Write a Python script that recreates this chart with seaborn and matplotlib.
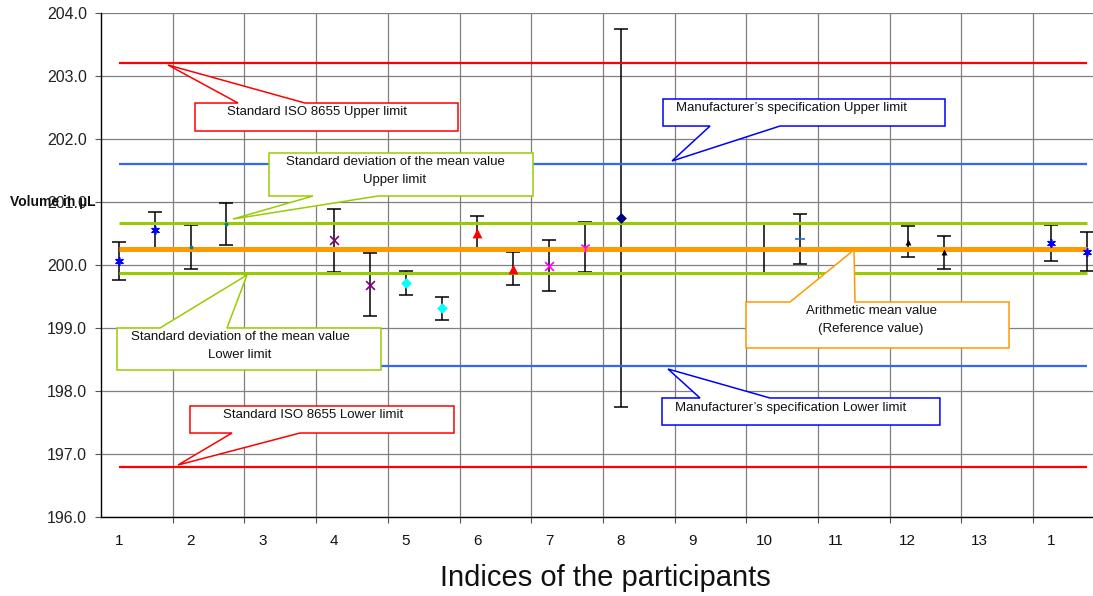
import numpy as np
import pandas as pd
import matplotlib.pyplot as plt
import seaborn as sns
from matplotlib.patches import Polygon

# ---------------------------------------------------------------
# data
# ---------------------------------------------------------------
x_pos = [-0.25, 0.25, 0.75, 1.25, 2.75, 3.25, 3.75, 4.25, 4.75, 5.25,
         5.75, 6.25, 6.75, 8.75, 9.25, 10.75, 11.25, 12.75, 13.25]
volume = [200.06, 200.55, 200.29, 200.65, 200.39, 199.69, 199.72, 199.31, 200.51, 199.94,
          199.99, 200.29, 200.75, 200.26, 200.41, 200.37, 200.20, 200.35, 200.21]
uncert = [0.30, 0.29, 0.35, 0.33, 0.50, 0.50, 0.19, 0.19, 0.27, 0.26,
          0.40, 0.40, 3.00, 0.39, 0.40, 0.25, 0.26, 0.28, 0.31]
series = ['A', 'A', 'B', 'B', 'C', 'C', 'D', 'D', 'E', 'E',
          'F', 'G', 'H', 'I', 'J', 'K', 'K', 'A', 'A']

tick_labels = ['1', '2', '3', '4', '5', '6', '7', '8', '9', '10', '11', '12', '13', '1']

iso_limits = [196.8, 203.2]
manuf_limits = [198.4, 201.6]
sd_limits = [199.87, 200.66]
mean_value = 200.26

df = pd.DataFrame({'x': x_pos, 'volume': volume, 'u': uncert, 'series': series})

# marker style per series: (colour, marker, size)
styles = {
    'A': ('#0000FF', (6, 2, 0), 28),
    'B': ('#008080', 'o', 8),
    'C': ('#800080', 'x', 40),
    'D': ('#00FFFF', 'D', 30),
    'E': ('#FF0000', '^', 50),
    'F': ('#FF00FF', 'x', 40),
    'G': ('#FF00FF', '1', 60),
    'H': ('#000080', 'D', 30),
    'I': None,
    'J': ('#1F6FD0', '_', 60),
    'K': ('#000000', '^', 18),
}

sns.set_theme(style='white')
plt.rcParams['font.family'] = ['Liberation Sans', 'DejaVu Sans']
narrow = ['Liberation Sans Narrow', 'Liberation Sans', 'DejaVu Sans']

fig = plt.figure(figsize=(10.93, 5.96), dpi=100)
ax = fig.add_axes([101 / 1093, 1 - 517 / 596, 1 - 101 / 1093, (517 - 13) / 596])

# error bars (caps hidden for the series without marker)
for s, g in df.groupby('series'):
    cap = 0 if styles[s] is None else 5
    ax.errorbar(g['x'], g['volume'], yerr=g['u'], fmt='none', ecolor='black',
                elinewidth=1.1, capsize=cap, capthick=1.1, zorder=2)

# reference lines
span = (-0.25, 13.25)
ax.hlines(iso_limits, *span, colors='#FF0000', linewidth=1.6, zorder=3)
ax.hlines(manuf_limits, *span, colors='#3366FF', linewidth=1.6, zorder=3)
ax.hlines(sd_limits, *span, colors='#99CC00', linewidth=2.2, zorder=3)
ax.hlines(mean_value, *span, colors='#FF9900', linewidth=3.6, zorder=3)

# markers
for s, g in df.groupby('series'):
    if styles[s] is None:
        continue
    col, mk, size = styles[s]
    sns.scatterplot(data=g, x='x', y='volume', marker=mk, color=col, s=size,
                    linewidth=1.2 if mk in ('x', '1', '_', (6, 2, 0)) else 0,
                    edgecolor=col, ax=ax, zorder=4, legend=False)

# callouts: text, colour, box x0, x1, y bottom, y top, wedge side, wedge base, tip, text pos, ha
callouts = [
    ('Standard ISO 8655 Upper limit', '#FF0000', 0.811, 4.479, 202.127, 202.571, 'top',
     (1.411, 2.345), (0.434, 203.175), (2.513, 202.43), 'center'),
    ('Manufacturer\u2019s specification Upper limit', '#0000FF', 7.338, 11.271, 202.206, 202.635, 'bottom',
     (7.994, 8.970), (7.464, 201.651), (7.52, 202.49), 'left'),
    ('Standard deviation of the mean value\nUpper limit', '#99CC00', 1.843, 5.525, 201.095, 201.778, 'bottom',
     (2.457, 3.363), (1.341, 200.730), (3.60, 201.49), 'center'),
    ('Standard deviation of the mean value\nLower limit', '#99CC00', -0.277, 3.405, 198.333, 199.0, 'top',
     (0.323, 1.257), (1.536, 199.841), (1.44, 198.71), 'center'),
    ('Arithmetic mean value\n(Reference value)', '#FF9900', 8.496, 12.164, 198.683, 199.413, 'top',
     (9.110, 10.016), (10.002, 200.24), (10.24, 199.13), 'center'),
    ('Manufacturer\u2019s specification Lower limit', '#0000FF', 7.324, 11.20, 197.46, 197.889, 'top',
     (7.854, 8.83), (7.408, 198.349), (7.506, 197.73), 'left'),
    ('Standard ISO 8655 Lower limit', '#FF0000', 0.741, 4.423, 197.333, 197.762, 'bottom',
     (1.327, 2.275), (0.574, 196.825), (2.457, 197.62), 'center'),
]
for text, col, x0, x1, yb, yt, side, (b0, b1), tip, (tx, ty), ha in callouts:
    if side == 'top':
        pts = [(x0, yb), (x0, yt), (b0, yt), tip, (b1, yt), (x1, yt), (x1, yb)]
    else:
        pts = [(x0, yt), (x1, yt), (x1, yb), (b1, yb), tip, (b0, yb), (x0, yb)]
    ax.add_patch(Polygon(pts, closed=True, facecolor='white', edgecolor=col,
                         linewidth=1.1, zorder=5))
    ax.text(tx, ty, text, ha=ha, va='center', multialignment='center',
            fontsize=9.5, color='#111111', linespacing=1.65, zorder=6)

# axes
ax.set_xlim(-0.5, 13.335)
ax.set_ylim(196, 204)
ax.set_yticks(np.arange(196, 204.1, 1.0))
ax.set_yticklabels([f'{v:.1f}' for v in np.arange(196, 204.1, 1.0)])
ax.set_xticks(np.arange(0.5, 13.0, 1.0))
ax.set_xticklabels([])
ax.set_xticks(np.arange(14) - 0.25, minor=True)
ax.set_xticklabels(tick_labels, minor=True, family=narrow)
ax.tick_params(axis='x', which='major', length=4, width=0.8, color='#555555', direction='out', bottom=True)
ax.tick_params(axis='x', which='minor', length=0, pad=12, labelsize=11, labelcolor='#111111')
ax.tick_params(axis='y', which='major', length=4, width=0.8, color='#555555', direction='out',
               left=True, pad=6, labelsize=11.5, labelcolor='#222222')
ax.grid(True, which='major', color='#808080', linewidth=0.9)
ax.set_axisbelow(True)
for sp in ['top', 'right']:
    ax.spines[sp].set_visible(False)
for sp in ['left', 'bottom']:
    ax.spines[sp].set_color('black')
    ax.spines[sp].set_linewidth(1.0)

ax.set_xlabel('Indices of the participants', fontsize=21, color='#111111', family=narrow)
ax.xaxis.set_label_coords(0.508, -0.094)
ax.set_ylabel('')
fig.text(10 / 1093, 1 - 202 / 596, 'Volume in \u00b5L', ha='left', va='center',
         fontsize=10, fontweight='bold', color='#111111')

fig.savefig('out.png', dpi=100)
